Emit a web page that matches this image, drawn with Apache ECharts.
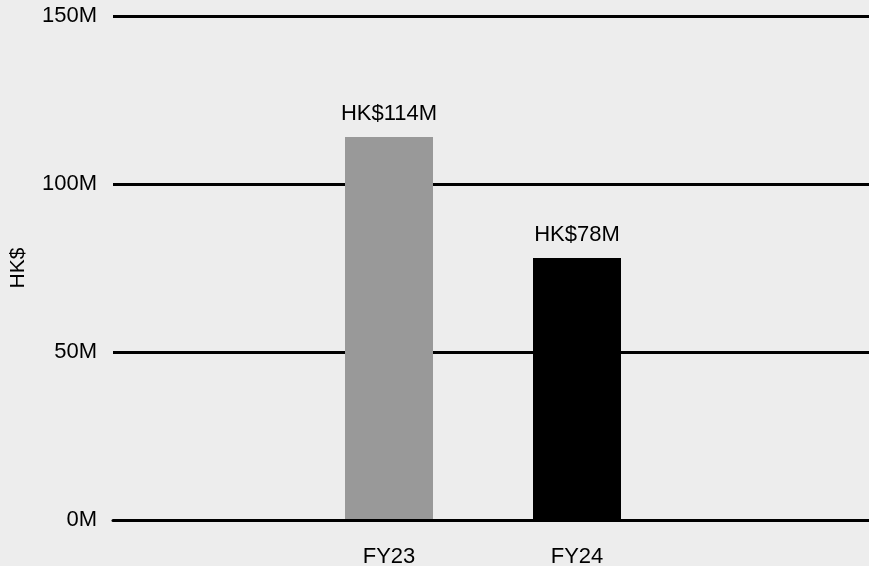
<!DOCTYPE html>
<html>
<head>
<meta charset="utf-8">
<script src="https://cdn.jsdelivr.net/npm/echarts@6/dist/echarts.min.js"></script>
<style>
  html, body { margin: 0; padding: 0; background: #ededed; }
  #chart { width: 869px; height: 566px; }
</style>
</head>
<body>
<div id="chart"></div>
<script>
// Fiscal years and reported amounts (millions of HK$)
const categories = ['FY23', 'FY24'];
const amounts = [114, 78];
const barColors = ['#999999', '#000000'];
const yTicks = [0, 50, 100, 150];

const FONT = 'Liberation Sans, Arial, Helvetica, sans-serif';
const chart = echarts.init(document.getElementById('chart'), null, { renderer: 'canvas' });

chart.setOption({
  backgroundColor: '#ededed',
  animation: false,
  textStyle: { fontFamily: FONT, color: '#000' },
  grid: [
    // full-width grid carrying the value axis and its grid lines
    { left: 113, right: 0, top: 16, bottom: 46, containLabel: false, outerBoundsMode: 'none' },
    // narrower grid holding the two bars
    { left: 295, right: 198, top: 16, bottom: 46, containLabel: false, outerBoundsMode: 'none' }
  ],
  xAxis: [
    {
      gridIndex: 0, type: 'category', data: categories, z: 5,
      axisLine: { show: true, lineStyle: { color: '#000', width: 3 } },
      axisTick: { show: false }, axisLabel: { show: false }
    },
    {
      gridIndex: 1, type: 'category', data: categories,
      axisLine: { show: false }, axisTick: { show: false },
      axisLabel: { fontSize: 22, color: '#000', fontFamily: FONT, margin: 26 }
    }
  ],
  yAxis: [
    {
      gridIndex: 0, type: 'value',
      min: yTicks[0], max: yTicks[yTicks.length - 1], interval: 50,
      name: 'HK$', nameLocation: 'middle', nameGap: 84,
      nameTextStyle: { fontSize: 21, color: '#000', fontFamily: FONT },
      axisLine: { show: false }, axisTick: { show: false },
      axisLabel: { fontSize: 22, color: '#000', fontFamily: FONT, margin: 16, formatter: '{value}M' },
      splitLine: { show: true, lineStyle: { color: '#000', width: 3 } }
    },
    {
      gridIndex: 1, type: 'value',
      min: yTicks[0], max: yTicks[yTicks.length - 1],
      show: false, splitLine: { show: false }
    }
  ],
  series: [{
    type: 'bar',
    xAxisIndex: 1, yAxisIndex: 1,
    barWidth: 88,
    data: amounts.map((v, i) => ({ value: v, itemStyle: { color: barColors[i] } })),
    label: {
      show: true, position: 'top', distance: 12,
      fontSize: 22, color: '#000', fontFamily: FONT,
      formatter: p => 'HK$' + p.value + 'M'
    }
  }]
});
</script>
</body>
</html>
